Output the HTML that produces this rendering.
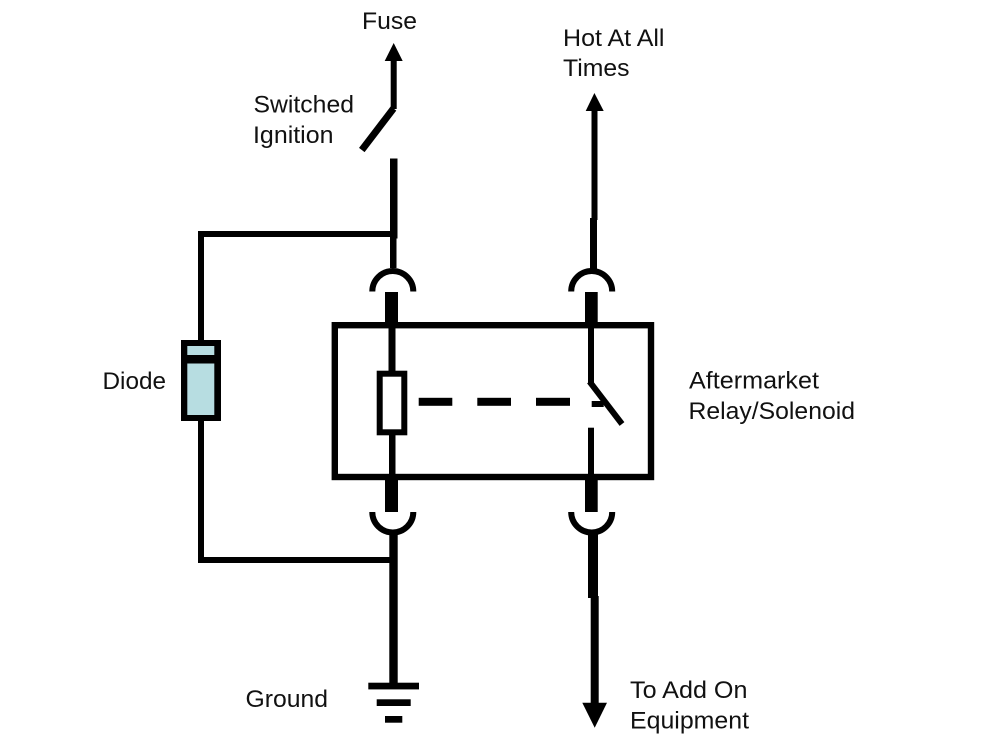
<!DOCTYPE html>
<html>
<head>
<meta charset="utf-8">
<style>
html,body{margin:0;padding:0;background:#fff;width:1005px;height:753px;overflow:hidden}
svg{display:block}
text{font-family:"Liberation Sans",Arial,sans-serif;font-size:24.5px;fill:#111}
</style>
</head>
<body>
<svg width="1005" height="753" viewBox="0 0 1005 753" xmlns="http://www.w3.org/2000/svg">
<rect width="1005" height="753" fill="#fff"/>
<g fill="#000" stroke="none">
<!-- Fuse arrow -->
<polygon points="393.7,43 402.7,61 384.7,61"/>
<rect x="390.7" y="60" width="6" height="49"/>
<!-- left top wire -->
<rect x="390" y="158.5" width="7.5" height="80"/>
<rect x="390" y="238" width="6.5" height="30"/>
<!-- Hot arrow -->
<polygon points="594.4,93 603.7,111 585.7,111"/>
<rect x="591.5" y="110" width="6" height="110"/>
<rect x="590" y="218" width="7" height="52"/>
<!-- inside box wires -->
<rect x="388.5" y="324" width="7" height="48"/>
<rect x="389" y="434" width="6.5" height="45"/>
<rect x="588" y="324" width="6" height="59"/>
<rect x="588" y="427.7" width="6" height="52"/>
<!-- dashes -->
<rect x="418.7" y="397.8" width="33.6" height="8"/>
<rect x="477.3" y="397.8" width="33.7" height="8"/>
<rect x="536" y="397.8" width="34" height="8"/>
<rect x="591.7" y="401" width="12" height="6"/>
<!-- lower wires -->
<rect x="389.3" y="534" width="8.4" height="150"/>
<rect x="588" y="534" width="10" height="64"/>
<rect x="590.7" y="596" width="8" height="108"/>
<polygon points="582.3,702.7 607,702.7 594.7,727.7"/>
<!-- ground -->
<rect x="368.3" y="682.7" width="50.7" height="6.7"/>
<rect x="376.7" y="699.3" width="34" height="6.7"/>
<rect x="385" y="716" width="17.3" height="6.7"/>
<!-- diode wires -->
<rect x="198" y="231" width="193" height="6"/>
<rect x="198" y="231" width="6" height="110"/>
<rect x="198" y="420" width="6" height="143"/>
<rect x="198" y="557" width="193" height="6"/>
<!-- diode -->
<rect x="181" y="340" width="40" height="81"/>
</g>
<rect x="187.3" y="346" width="27" height="9" fill="#b7dde1"/>
<rect x="187.3" y="363.5" width="27" height="51.5" fill="#b7dde1"/>
<!-- relay box -->
<rect x="334.8" y="325.2" width="316.2" height="151.8" fill="none" stroke="#000" stroke-width="6.4"/>
<rect x="385" y="292" width="13" height="32" fill="#000"/>
<rect x="585" y="292" width="12.7" height="32" fill="#000"/>
<rect x="385" y="478" width="13" height="34" fill="#000"/>
<rect x="585" y="478" width="12.7" height="34" fill="#000"/>
<!-- coil -->
<rect x="379.7" y="373.7" width="24.6" height="58.6" fill="#fff" stroke="#000" stroke-width="6"/>
<g fill="none" stroke="#000">
<!-- switch blades -->
<line x1="393.5" y1="108.5" x2="361.8" y2="150" stroke-width="7"/>
<line x1="589.5" y1="381.5" x2="622" y2="424" stroke-width="6"/>
<!-- arcs -->
<path d="M372.3 291.5A20.5 20.5 0 0 1 413.3 291.5" stroke-width="6"/>
<path d="M571.2 291.5A20.5 20.5 0 0 1 612.2 291.5" stroke-width="6"/>
<path d="M372.3 512A20.5 20.5 0 0 0 413.3 512" stroke-width="6"/>
<path d="M571.2 512A20.5 20.5 0 0 0 612.2 512" stroke-width="6"/>
</g>
<!-- labels -->
<text x="362" y="29" textLength="55" lengthAdjust="spacingAndGlyphs">Fuse</text>
<text x="563" y="46" textLength="101.5" lengthAdjust="spacingAndGlyphs">Hot At All</text>
<text x="563" y="76" textLength="66.5" lengthAdjust="spacingAndGlyphs">Times</text>
<text x="253.5" y="112.5" textLength="100.5" lengthAdjust="spacingAndGlyphs">Switched</text>
<text x="253" y="143" textLength="80.5" lengthAdjust="spacingAndGlyphs">Ignition</text>
<text x="102.5" y="389" textLength="63.5" lengthAdjust="spacingAndGlyphs">Diode</text>
<text x="689" y="388.5" textLength="130" lengthAdjust="spacingAndGlyphs">Aftermarket</text>
<text x="688.5" y="419" textLength="166.5" lengthAdjust="spacingAndGlyphs">Relay/Solenoid</text>
<text x="245.5" y="707" textLength="82.5" lengthAdjust="spacingAndGlyphs">Ground</text>
<text x="630" y="698" textLength="117.5" lengthAdjust="spacingAndGlyphs">To Add On</text>
<text x="630" y="728.5" textLength="119" lengthAdjust="spacingAndGlyphs">Equipment</text>
</svg>
</body>
</html>
